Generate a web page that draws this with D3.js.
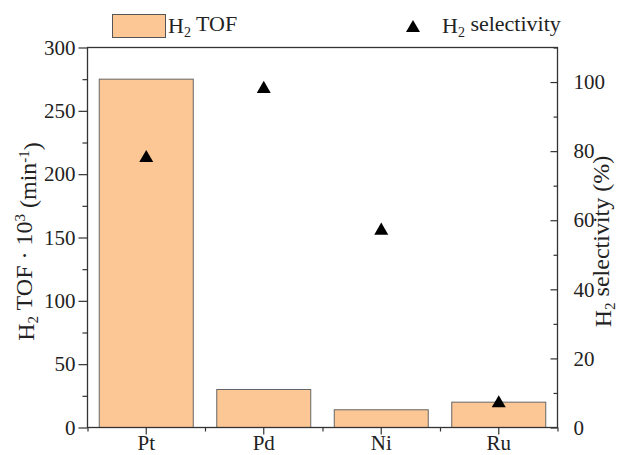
<!DOCTYPE html>
<html><head><meta charset="utf-8">
<script src="https://cdn.jsdelivr.net/npm/d3@7"></script>
<style>body{margin:0;background:#fff}svg{display:block}text{font-family:"Liberation Serif","DejaVu Serif",serif;fill:#222}</style>
</head><body><svg id="c" width="618" height="455"></svg>
<script>
const categories = ["Pt","Pd","Ni","Ru"];
const tofValues = [275, 30, 14, 20];
const selectivityValues = [78, 98, 57, 7];
const leftTicks = [0,50,100,150,200,250,300];
const leftMinorTicks = [25,75,125,175,225,275];
const rightTicks = [0,20,40,60,80,100];
const rightMinorTicks = [10,30,50,70,90,110];

const W=618,H=455, m={l:87.5,r:60.5,t:47.5,b:27.5};
const svg=d3.select("#c");
const x=d3.scaleBand().domain(categories).range([m.l,W-m.r]).paddingInner(0.2).paddingOuter(0.1);
const yL=d3.scaleLinear().domain([0,300]).range([H-m.b,m.t]);
const yR=d3.scaleLinear().domain([0,110]).range([H-m.b,m.t]);
const fs=21, ff="Liberation Serif", tfs=24, lfs=22;

// bars
svg.append("g").selectAll("rect").data(categories).join("rect")
  .attr("x",d=>x(d)).attr("width",x.bandwidth())
  .attr("y",(d,i)=>yL(tofValues[i])).attr("height",(d,i)=>yL(0)-yL(tofValues[i]))
  .attr("fill","#fcc794").attr("stroke","#666").attr("stroke-width",1);

// frame
svg.append("rect").attr("x",m.l).attr("y",m.t).attr("width",W-m.r-m.l).attr("height",H-m.b-m.t)
  .attr("fill","none").attr("stroke","#333").attr("stroke-width",1.3);

function styleAxis(g){
  g.attr("font-family",ff).attr("font-size",fs);
  g.selectAll(".domain").remove();
  g.selectAll("line").attr("stroke","#333").attr("stroke-width",1.2);
  g.selectAll("text").style("font-size",fs+"px").style("font-family",ff).attr("fill","#222");
}
// left axis
styleAxis(svg.append("g").attr("transform",`translate(${m.l},0)`)
  .call(d3.axisLeft(yL).tickValues(leftMinorTicks).tickSize(5).tickFormat("")));
styleAxis(svg.append("g").attr("transform",`translate(${m.l},0)`)
  .call(d3.axisLeft(yL).tickValues(leftTicks).tickSize(9).tickPadding(3).tickFormat(d3.format("d"))));

// right axis (ticks inward)
styleAxis(svg.append("g").attr("transform",`translate(${W-m.r},0)`)
  .call(d3.axisRight(yR).tickValues(rightMinorTicks).tickSize(-4).tickFormat("")));
styleAxis(svg.append("g").attr("transform",`translate(${W-m.r},0)`)
  .call(d3.axisRight(yR).tickValues(rightTicks).tickSize(-7).tickPadding(16).tickFormat(d3.format("d"))));

// bottom axis
const step=x.step();
const bounds=[m.l, ...categories.slice(1).map(c=>x(c)-step*0.1), W-m.r];
const xLin=d3.scaleLinear().domain([m.l,W-m.r]).range([m.l,W-m.r]);
styleAxis(svg.append("g").attr("transform",`translate(0,${H-m.b})`)
  .call(d3.axisBottom(xLin).tickValues(bounds).tickSize(4).tickFormat("")));
styleAxis(svg.append("g").attr("transform",`translate(0,${H-m.b})`)
  .call(d3.axisBottom(x).tickSize(7).tickPadding(1)));

// triangles
const tri=d3.symbol().type(d3.symbolTriangle).size(85);
svg.append("g").selectAll("path").data(categories).join("path")
  .attr("d",tri).attr("fill","#000")
  .attr("transform",(d,i)=>`translate(${x(d)+x.bandwidth()/2},${yR(selectivityValues[i])})`);

function rich(t, parts, small){
  parts.forEach(p=>{
    const s=t.append("tspan").text(p.t);
    if(p.k==="sub") s.attr("dy","0.25em").style("font-size",small+"px");
    else if(p.k==="sup") s.attr("dy","-0.45em").style("font-size",small+"px");
    if(p.dy) s.attr("dy",p.dy);
  });
}
// axis titles
const lt=svg.append("text").attr("transform",`translate(34,${(m.t+H-m.b)/2+4}) rotate(-90)`)
  .attr("text-anchor","middle").style("font-size",tfs+"px");
rich(lt,[{t:"H"},{t:"2",k:"sub"},{t:" TOF · 10",dy:"-0.25em"},{t:"3",k:"sup"},{t:" (min",dy:"0.45em"},{t:"-1",k:"sup"},{t:")",dy:"0.45em"}],15);

const rt=svg.append("text").attr("transform",`translate(611,${(m.t+H-m.b)/2+4}) rotate(-90)`)
  .attr("text-anchor","middle").style("font-size",tfs+"px");
rich(rt,[{t:"H"},{t:"2",k:"sub"},{t:" selectivity (%)",dy:"-0.25em"}],15);

// legend
svg.append("rect").attr("x",112.5).attr("y",14.5).attr("width",53).attr("height",23)
  .attr("fill","#fcc794").attr("stroke","#555");
const l1=svg.append("text").attr("x",168).attr("y",33).style("font-size",lfs+"px");
rich(l1,[{t:"H"},{t:"2",k:"sub"},{t:" TOF",dy:"-0.25em"}],14);
svg.append("path").attr("d",tri).attr("transform","translate(413,28)").attr("fill","#000");
const l2=svg.append("text").attr("x",442).attr("y",33).style("font-size",lfs+"px");
rich(l2,[{t:"H"},{t:"2",k:"sub"},{t:" selectivity",dy:"-0.25em"}],14);
</script></body></html>
